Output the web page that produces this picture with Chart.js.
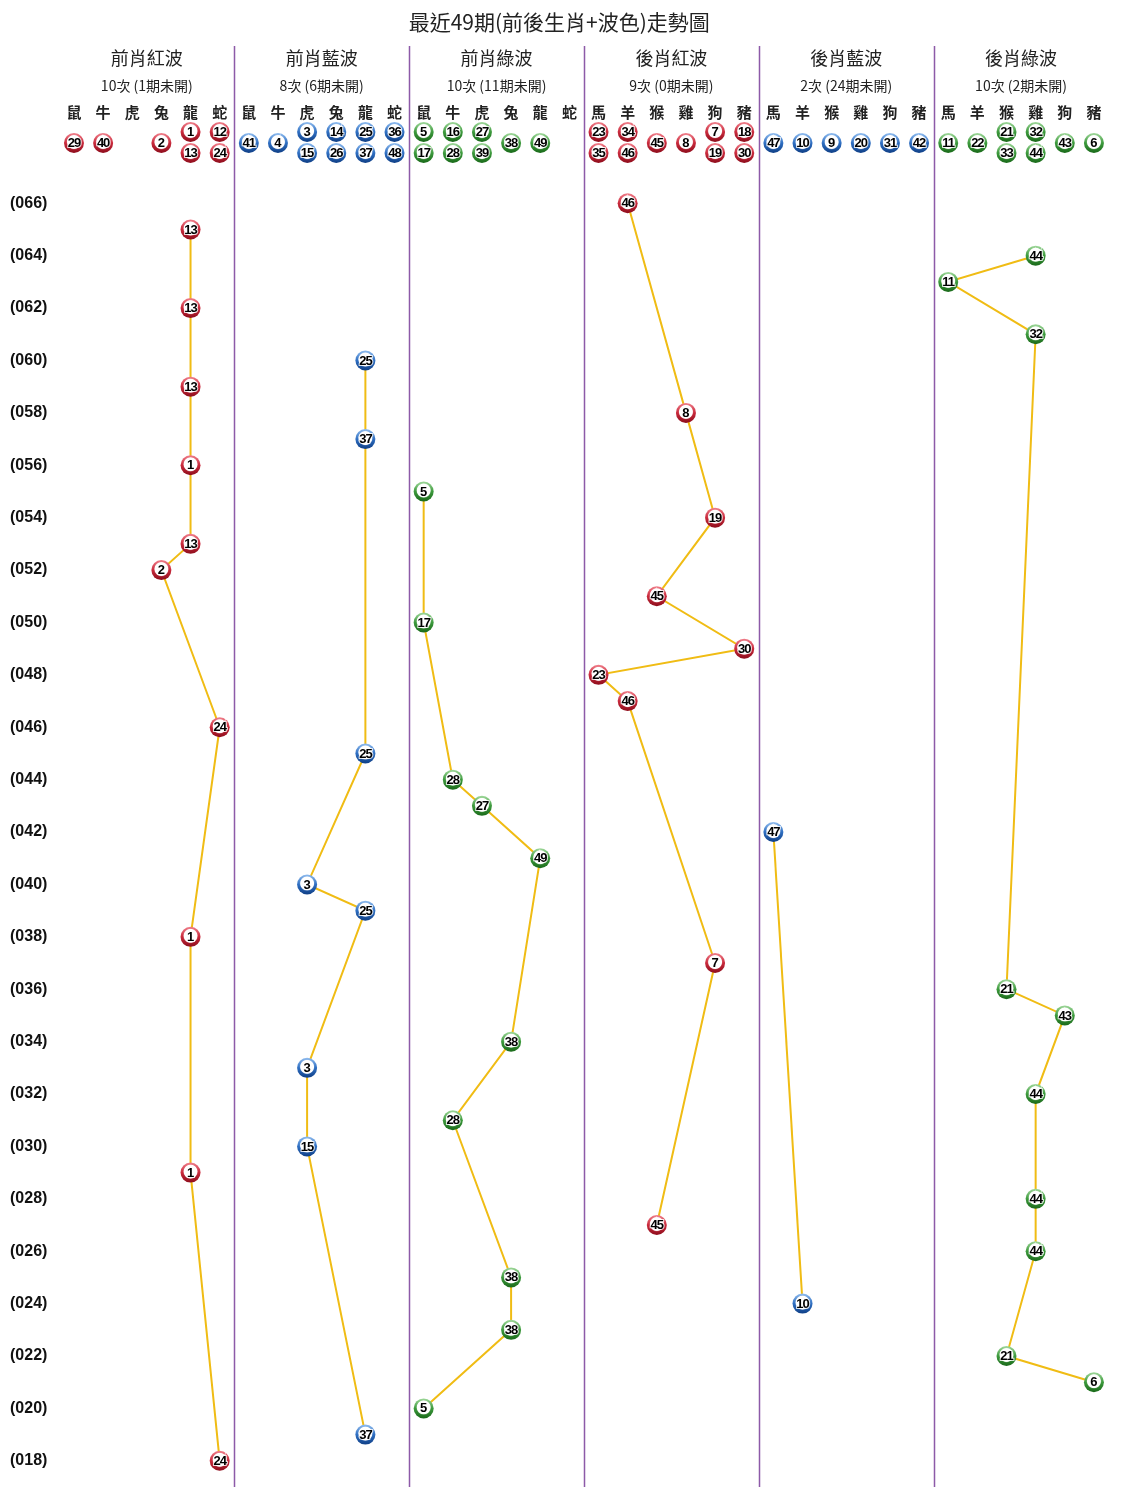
<!DOCTYPE html>
<html>
<head>
<meta charset="UTF-8">
<title>最近49期走勢圖</title>
<script src="https://cdn.jsdelivr.net/npm/chart.js"></script>
<style>
  body { margin: 0; background: #fff; }
  .wrap { width: 1139px; height: 1500px; position: relative; }
</style>
</head>
<body>
<div class="wrap"><canvas id="trend"></canvas></div>
<script>
// panels: 前肖 uses first zodiac set, 後肖 the second
const zodiacFront = ['鼠', '牛', '虎', '兔', '龍', '蛇'];
const zodiacBack = ['馬', '羊', '猴', '雞', '狗', '豬'];
const panelTitles = ['前肖紅波', '前肖藍波', '前肖綠波', '後肖紅波', '後肖藍波', '後肖綠波'];
const panelNotes = ['10次 (1期未開)', '8次 (6期未開)', '10次 (11期未開)', '9次 (0期未開)', '2次 (24期未開)', '10次 (2期未開)'];
const panelColors = ['red', 'blue', 'green', 'red', 'blue', 'green'];

// numbers belonging to each zodiac in the header
const headerBalls = [
  [[29], [40], [], [2], [1, 13], [12, 24]],
  [[41], [4], [3, 15], [14, 26], [25, 37], [36, 48]],
  [[5, 17], [16, 28], [27, 39], [38], [49], []],
  [[23, 35], [34, 46], [45], [8], [7, 19], [18, 30]],
  [[47], [10], [9], [20], [31], [42]],
  [[11], [22], [21, 33], [32, 44], [43], [6]]
];

const periodTicks = [66, 64, 62, 60, 58, 56, 54, 52, 50, 48, 46, 44, 42, 40, 38, 36, 34, 32, 30, 28, 26, 24, 22, 20, 18];

// per panel: period, zodiac index within panel, drawn number
const periods1 = [65, 62, 59, 56, 53, 52, 46, 38, 29, 18];
const zodiac1  = [4, 4, 4, 4, 4, 3, 5, 4, 4, 5];
const nums1    = [13, 13, 13, 1, 13, 2, 24, 1, 1, 24];

const periods2 = [60, 57, 45, 40, 39, 33, 30, 19];
const zodiac2  = [4, 4, 4, 2, 4, 2, 2, 4];
const nums2    = [25, 37, 25, 3, 25, 3, 15, 37];

const periods3 = [55, 50, 44, 43, 41, 34, 31, 25, 23, 20];
const zodiac3  = [0, 0, 1, 2, 4, 3, 1, 3, 3, 0];
const nums3    = [5, 17, 28, 27, 49, 38, 28, 38, 38, 5];

const periods4 = [66, 58, 54, 51, 49, 48, 47, 37, 27];
const zodiac4  = [1, 3, 4, 2, 5, 0, 1, 4, 2];
const nums4    = [46, 8, 19, 45, 30, 23, 46, 7, 45];

const periods5 = [42, 24];
const zodiac5  = [0, 1];
const nums5    = [47, 10];

const periods6 = [64, 63, 61, 36, 35, 32, 28, 26, 22, 21];
const zodiac6  = [3, 0, 3, 2, 4, 3, 3, 3, 2, 5];
const nums6    = [44, 11, 32, 21, 43, 44, 44, 44, 21, 6];

const allPeriods = [periods1, periods2, periods3, periods4, periods5, periods6];
const allZodiac = [zodiac1, zodiac2, zodiac3, zodiac4, zodiac5, zodiac6];
const allNums = [nums1, nums2, nums3, nums4, nums5, nums6];

const ballPalette = {
  red:   { dark: '#8e0d1c', mid: '#c92a3c', light: '#f07e8a' },
  blue:  { dark: '#0f3f86', mid: '#2f6fc2', light: '#8fbcef' },
  green: { dark: '#1a6a1a', mid: '#3d9a3d', light: '#9fd89a' }
};

const CJK = '"Noto Sans CJK TC", "Noto Sans", sans-serif';

function drawBall(ctx, x, y, color, num) {
  const p = ballPalette[color];
  const r = 10;
  ctx.save();
  const g = ctx.createLinearGradient(x, y - r, x, y + r);
  g.addColorStop(0, p.light);
  g.addColorStop(0.5, p.mid);
  g.addColorStop(1, p.dark);
  ctx.beginPath();
  ctx.arc(x, y, r, 0, Math.PI * 2);
  ctx.fillStyle = g;
  ctx.fill();
  const w = ctx.createRadialGradient(x, y - 1, 1, x, y - 1, 7.4);
  w.addColorStop(0, '#ffffff');
  w.addColorStop(0.85, '#ffffff');
  w.addColorStop(1, 'rgba(255,255,255,0.2)');
  ctx.beginPath();
  ctx.arc(x, y - 1, 7.4, 0, Math.PI * 2);
  ctx.fillStyle = w;
  ctx.fill();
  ctx.font = 'bold 13px "Liberation Sans", Arial, sans-serif';
  ctx.textAlign = 'center';
  ctx.textBaseline = 'middle';
  if (num >= 10) ctx.letterSpacing = '-1px';
  ctx.strokeStyle = 'rgba(255,255,255,0.8)';
  ctx.lineWidth = 2;
  ctx.strokeText(String(num), x, y + 0.5);
  ctx.fillStyle = '#000';
  ctx.fillText(String(num), x, y + 0.5);
  ctx.restore();
}

const datasets = allPeriods.map((periods, p) => ({
  label: panelTitles[p],
  data: periods.map((per, i) => ({ x: p * 6 + allZodiac[p][i], y: per })),
  showLine: true,
  borderColor: '#f0bc14',
  borderWidth: 2,
  pointRadius: 0,
  ballColor: panelColors[p],
  ballNums: allNums[p]
}));

const trendPlugin = {
  id: 'trendPlugin',
  beforeDatasetsDraw(chart) {
    const { ctx, scales: { x }, chartArea } = chart;
    ctx.save();
    ctx.strokeStyle = '#8d5aa8';
    ctx.lineWidth = 1.5;
    [5.5, 11.5, 17.5, 23.5, 29.5].forEach(b => {
      const px = Math.round(x.getPixelForValue(b)) + 0.5;
      ctx.beginPath();
      ctx.moveTo(px, 46);
      ctx.lineTo(px, chartArea.bottom);
      ctx.stroke();
    });

    // header
    ctx.fillStyle = '#222';
    ctx.textAlign = 'center';
    ctx.textBaseline = 'middle';
    panelTitles.forEach((t, p) => {
      const cx = (x.getPixelForValue(p * 6) + x.getPixelForValue(p * 6 + 5)) / 2;
      ctx.font = '18px ' + CJK;
      ctx.fillText(t, cx, 58);
      ctx.font = '14px ' + CJK;
      ctx.fillText(panelNotes[p], cx, 86);
      const names = p < 3 ? zodiacFront : zodiacBack;
      names.forEach((n, z) => {
        const zx = x.getPixelForValue(p * 6 + z);
        ctx.font = 'bold 15px ' + CJK;
        ctx.fillStyle = '#222';
        ctx.fillText(n, zx, 112);
        const balls = headerBalls[p][z];
        if (balls.length === 1) {
          drawBall(ctx, zx, 143, panelColors[p], balls[0]);
        } else if (balls.length === 2) {
          drawBall(ctx, zx, 132, panelColors[p], balls[0]);
          drawBall(ctx, zx, 153, panelColors[p], balls[1]);
        }
      });
    });
    ctx.restore();
  },
  afterDatasetsDraw(chart) {
    const { ctx } = chart;
    chart.data.datasets.forEach((ds, i) => {
      const meta = chart.getDatasetMeta(i);
      meta.data.forEach((pt, j) => {
        drawBall(ctx, pt.x, pt.y, ds.ballColor, ds.ballNums[j]);
      });
    });
  }
};

new Chart(document.getElementById('trend'), {
  type: 'scatter',
  data: { datasets },
  options: {
    responsive: true,
    maintainAspectRatio: false,
    animation: false,
    layout: { padding: { left: 10, right: 30.5, top: 0, bottom: 13 } },
    plugins: {
      legend: { display: false },
      tooltip: { enabled: false },
      title: {
        display: true,
        text: '最近49期(前後生肖+波色)走勢圖',
        color: '#222',
        font: { family: CJK, size: 21, weight: 'normal' },
        padding: { top: 9, bottom: 156 }
      }
    },
    scales: {
      x: { type: 'linear', min: -0.5, max: 35.5, display: false },
      y: {
        type: 'linear',
        min: 17,
        max: 66.5,
        grid: { display: false },
        border: { display: false },
        afterBuildTicks: scale => {
          scale.ticks = periodTicks.map(v => ({ value: v }));
        },
        afterFit: scale => { scale.width = 49.4; },
        ticks: {
          crossAlign: 'far',
          color: '#111',
          font: { family: '"Liberation Sans", Arial, sans-serif', size: 16, weight: 'bold' },
          callback: v => '(' + String(v).padStart(3, '0') + ')'
        }
      }
    }
  },
  plugins: [trendPlugin]
});
</script>
</body>
</html>
